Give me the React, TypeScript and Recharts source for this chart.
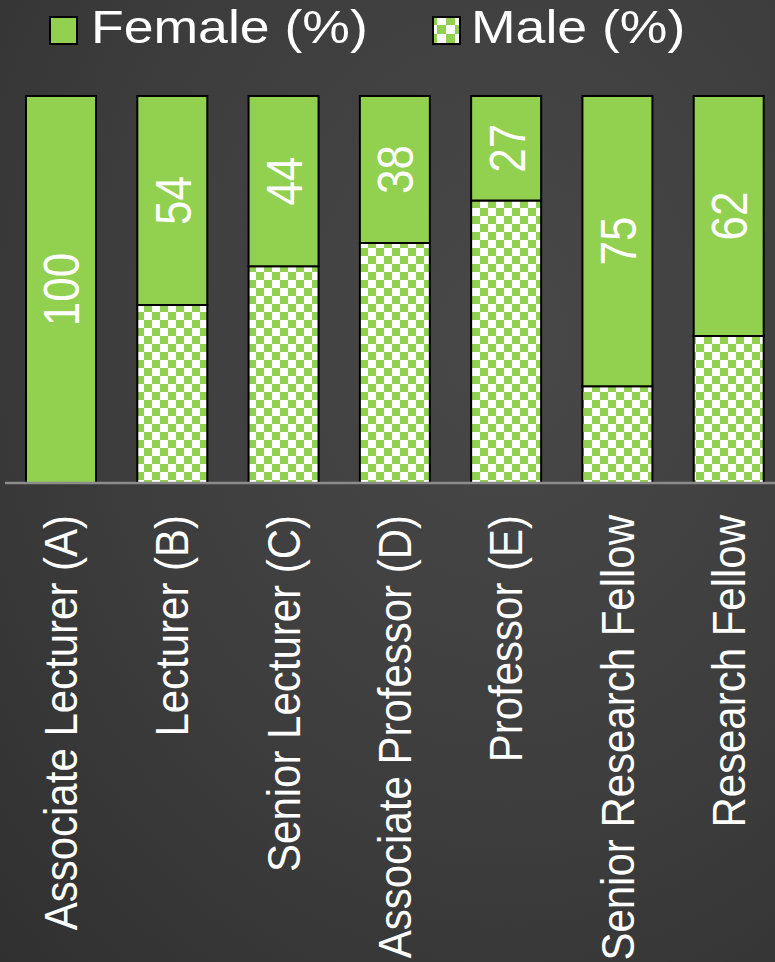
import React from 'react';
import { BarChart, Bar, XAxis, YAxis, Legend, LabelList } from 'recharts';

const categories = [
  'Associate Lecturer (A)',
  'Lecturer (B)',
  'Senior Lecturer (C)',
  'Associate Professor (D)',
  'Professor (E)',
  'Senior Research Fellow',
  'Research Fellow',
];
const femalePct = [100, 54, 44, 38, 27, 75, 62];
const malePct = [0, 46, 56, 62, 73, 25, 38];

const data = categories.map((name, i) => ({ name, female: femalePct[i], male: malePct[i] }));

const GREEN = '#92D050';
const FONT = '"Liberation Sans", Arial, sans-serif';

const CategoryTick = (props: any) => {
  const { x, y, payload } = props;
  return (
    <g transform={`translate(${x},${y + 24}) rotate(-90) scale(1,1.1)`}>
      <text x={0} y={15} textAnchor="end" fill="#ffffff" fontSize={42} fontFamily={FONT}>
        {payload.value}
      </text>
    </g>
  );
};

const FemaleLabel = (props: any) => {
  const { x, y, width, height, value } = props;
  const cx = x + width / 2;
  const cy = y + height / 2;
  return (
    <g transform={`translate(${cx},${cy}) rotate(-90) scale(1,1.15)`}>
      <text x={0} y={16} textAnchor="middle" fill="#ffffff" fontSize={44} fontFamily={FONT}>
        {value}
      </text>
    </g>
  );
};

const LegendContent = () => (
  <div style={{ position: 'relative', height: 70, width: 775 }}>
    <svg width={775} height={70} style={{ position: 'absolute', left: 0, top: 0 }}>
      <defs>
        <pattern id="legendChecker" patternUnits="userSpaceOnUse" width={18} height={18} x={50} y={16}>
          <rect x={0} y={0} width={18} height={18} fill="#ffffff" />
          <rect x={0} y={0} width={9} height={9} fill={GREEN} />
          <rect x={9} y={9} width={9} height={9} fill={GREEN} />
        </pattern>
      </defs>
      <rect x={50} y={17} width={27} height={27} fill={GREEN} stroke="#000" strokeWidth={2} />
      <g transform="translate(91,43) scale(1.14,1)">
        <text x={0} y={0} fill="#ffffff" fontSize={47} fontFamily={FONT}>Female (%)</text>
      </g>
      <rect x={433} y={17} width={27} height={27} fill="url(#legendChecker)" stroke="#000" strokeWidth={2} />
      <g transform="translate(471,43) scale(1.14,1)">
        <text x={0} y={0} fill="#ffffff" fontSize={47} fontFamily={FONT}>Male (%)</text>
      </g>
    </svg>
  </div>
);

export default function App() {
  return (
    <div
      style={{
        position: 'absolute',
        left: 0,
        top: 0,
        width: 775,
        height: 962,
        overflow: 'hidden',
        background: 'radial-gradient(ellipse at 65% 35%, #484848 0%, #3d3d3d 55%, #303030 100%)',
      }}
    >
      <BarChart
        width={790}
        height={962}
        data={data}
        margin={{ top: 26, right: 6, left: 5, bottom: 0 }}
        barSize={70}
      >
        <defs>
          <pattern id="checker" patternUnits="userSpaceOnUse" width={16} height={16}>
            <rect x={0} y={0} width={16} height={16} fill="#ffffff" />
            <rect x={0} y={0} width={8} height={8} fill={GREEN} />
            <rect x={8} y={8} width={8} height={8} fill={GREEN} />
          </pattern>
        </defs>
        <Legend
          verticalAlign="top"
          align="left"
          content={<LegendContent />}
          wrapperStyle={{ left: 0, top: 0, width: 775, height: 70 }}
        />
        <XAxis
          dataKey="name"
          height={479}
          interval={0}
          tick={<CategoryTick />}
          tickLine={false}
          axisLine={{ stroke: '#8c8c8c', strokeWidth: 2.5 }}
        />
        <YAxis hide domain={[0, 100]} />
        <Bar dataKey="male" stackId="a" fill="url(#checker)" stroke="#000" strokeWidth={2} isAnimationActive={false} />
        <Bar dataKey="female" stackId="a" fill={GREEN} stroke="#000" strokeWidth={2} isAnimationActive={false}>
          <LabelList dataKey="female" content={<FemaleLabel />} />
        </Bar>
      </BarChart>
    </div>
  );
}
